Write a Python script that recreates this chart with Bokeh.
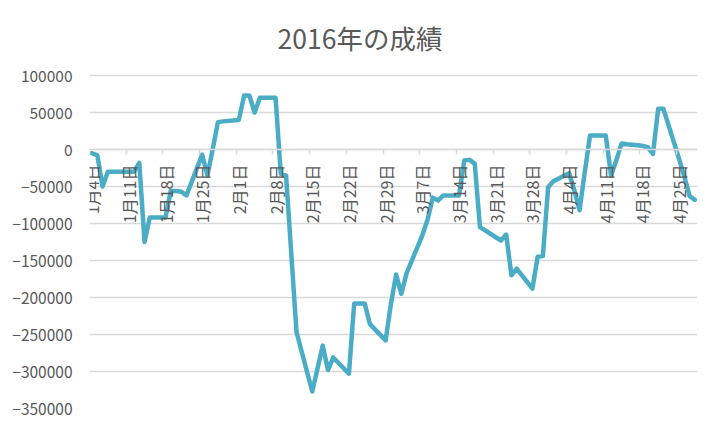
import math
import pandas as pd
from bokeh.plotting import figure
from bokeh.models import Range1d, LinearAxis, FixedTicker, BasicTickFormatter, Label
from bokeh.embed import file_html
from bokeh.resources import INLINE

title_text = "2016年の成績"

dates = [
    "2016-01-04", "2016-01-05", "2016-01-06", "2016-01-07", "2016-01-08",
    "2016-01-12", "2016-01-13", "2016-01-14", "2016-01-15",
    "2016-01-18", "2016-01-19", "2016-01-20", "2016-01-21", "2016-01-22",
    "2016-01-25", "2016-01-26", "2016-01-27", "2016-01-28", "2016-01-29",
    "2016-02-01", "2016-02-02", "2016-02-03", "2016-02-04", "2016-02-05",
    "2016-02-08", "2016-02-09", "2016-02-10", "2016-02-12",
    "2016-02-15", "2016-02-16", "2016-02-17", "2016-02-18", "2016-02-19",
    "2016-02-22", "2016-02-23", "2016-02-24", "2016-02-25", "2016-02-26",
    "2016-02-29", "2016-03-01", "2016-03-02", "2016-03-03", "2016-03-04",
    "2016-03-07", "2016-03-08", "2016-03-09", "2016-03-10", "2016-03-11",
    "2016-03-14", "2016-03-15", "2016-03-16", "2016-03-17", "2016-03-18",
    "2016-03-22", "2016-03-23", "2016-03-24", "2016-03-25",
    "2016-03-28", "2016-03-29", "2016-03-30", "2016-03-31", "2016-04-01",
    "2016-04-04", "2016-04-05", "2016-04-06", "2016-04-07", "2016-04-08",
    "2016-04-11", "2016-04-12", "2016-04-13", "2016-04-14", "2016-04-15",
    "2016-04-18", "2016-04-19", "2016-04-20", "2016-04-21", "2016-04-22",
    "2016-04-25", "2016-04-26", "2016-04-27", "2016-04-28",
]

values = [
    -5000, -8000, -50000, -30000, -30000,
    -30000, -18000, -125000, -92000,
    -92000, -56000, -56000, -57000, -62000,
    -7000, -35000, 0, 37000, 38000,
    40000, 73000, 73000, 50000, 70000,
    70000, -33000, -35000, -247000,
    -327000, -296000, -265000, -298000, -281000,
    -303000, -208000, -208000, -208000, -236000,
    -258000, -209000, -169000, -195000, -167000,
    -116000, -95000, -65000, -69000, -62000,
    -62000, -15000, -14000, -19000, -105000,
    -123000, -115000, -170000, -161000,
    -188000, -145000, -144000, -51000, -43000,
    -32000, -55000, -82000, -30000, 19000,
    19000, -35000, -15000, 8000, 7000,
    5000, 3000, -6000, 55000, 55000,
    -13000, -37000, -63000, -68000,
]

tick_dates = [
    "2016-01-04", "2016-01-11", "2016-01-18", "2016-01-25",
    "2016-02-01", "2016-02-08", "2016-02-15", "2016-02-22", "2016-02-29",
    "2016-03-07", "2016-03-14", "2016-03-21", "2016-03-28",
    "2016-04-04", "2016-04-11", "2016-04-18", "2016-04-25",
]
tick_labels = [
    "1月4日", "1月11日", "1月18日", "1月25日",
    "2月1日", "2月8日", "2月15日", "2月22日", "2月29日",
    "3月7日", "3月14日", "3月21日", "3月28日",
    "4月4日", "4月11日", "4月18日", "4月25日",
]
y_ticks = [100000, 50000, 0, -50000, -100000, -150000, -200000, -250000, -300000, -350000]
y_min, y_max = -350000, 100000

axis_start = pd.Timestamp("2016-01-04")
axis_end = pd.Timestamp("2016-04-29")

def day_pos(s, centre=False):
    return (pd.Timestamp(s) - axis_start).days + (0.5 if centre else 0.0)

xs = [day_pos(d, True) for d in dates]
tick_x = [day_pos(d) for d in tick_dates]
label_x = [day_pos(d, True) for d in tick_dates]
n_days = (axis_end - axis_start).days

FONT = "Noto Sans CJK JP"
TXT = "#595959"
GRID = "#d9d9d9"

# layout (pixels)
W, H = 703, 424
LEFT, RIGHT, TOP, BOTTOM = 89, 6, 5, 16
PLOT_TOP = 75           # pixel row of the 100000 gridline
TITLE_CY = 37           # pixel row of the title centre
TITLE_CX = 359.5        # pixel column of the title centre

frame_h = H - TOP - BOTTOM
frame_w = W - LEFT - RIGHT
plot_h = (H - BOTTOM) - PLOT_TOP
per_px = (y_max - y_min) / plot_h
# frame extends above the value area so the title can sit inside it
y_top = y_min + frame_h * per_px

p = figure(width=W, height=H, output_backend="svg", toolbar_location=None,
           x_range=Range1d(0, n_days),
           y_range=Range1d(y_min, y_top),
           x_axis_location=None,
           min_border_left=LEFT, min_border_right=RIGHT,
           min_border_top=TOP, min_border_bottom=BOTTOM)
p.outline_line_color = None
p.background_fill_color = "white"
p.border_fill_color = "white"

title = Label(x=(TITLE_CX - LEFT) * n_days / frame_w,
              y=y_max + (PLOT_TOP - TITLE_CY) * per_px,
              text=title_text, text_align="center", text_baseline="middle",
              text_font=FONT, text_font_size="26.5px", text_color=TXT)
p.add_layout(title)

# y axis
p.yaxis.ticker = FixedTicker(ticks=y_ticks)
p.yaxis.formatter = BasicTickFormatter(use_scientific=False)
p.yaxis.axis_line_color = None
p.yaxis.major_tick_line_color = None
p.yaxis.major_tick_in = 0
p.yaxis.major_tick_out = 0
p.yaxis.minor_tick_line_color = None
p.yaxis.major_label_standoff = 17
p.yaxis.major_label_text_font = FONT
p.yaxis.major_label_text_font_size = "15.5px"
p.yaxis.major_label_text_color = TXT

p.ygrid.ticker = FixedTicker(ticks=y_ticks)
p.ygrid.grid_line_color = GRID
p.ygrid.grid_line_width = 1.5
p.xgrid.visible = False

# x axis crossing at y = 0: tick marks at week starts (minor), labels at day centres
xaxis = LinearAxis(fixed_location=0,
                   ticker=FixedTicker(ticks=label_x, minor_ticks=tick_x),
                   major_label_overrides={x: t for x, t in zip(label_x, tick_labels)},
                   axis_line_color=GRID, axis_line_width=1.5,
                   major_tick_line_color=None, major_tick_in=0, major_tick_out=5,
                   minor_tick_line_color=GRID, minor_tick_line_width=1.5,
                   minor_tick_in=0, minor_tick_out=5,
                   major_label_orientation=math.pi / 2,
                   major_label_standoff=10,
                   major_label_text_font=FONT,
                   major_label_text_font_size="16px",
                   major_label_text_color=TXT)
p.add_layout(xaxis, "below")

p.line(xs, values, line_color="#4BACC6", line_width=4.5, line_join="round", line_cap="round")

open("out.html", "w").write(file_html(p, INLINE))
